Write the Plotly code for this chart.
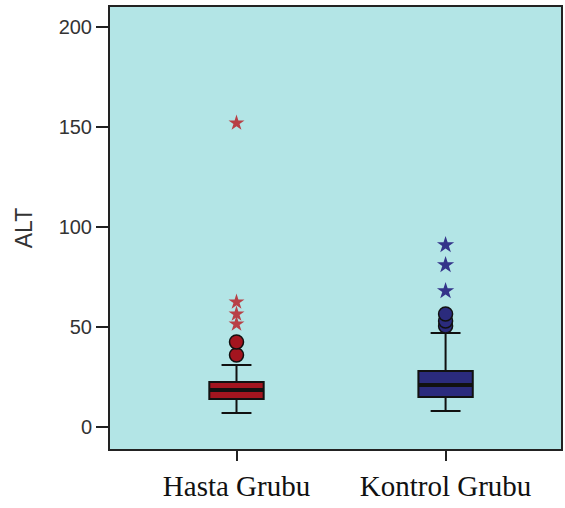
import plotly.graph_objects as go

categories = ["Hasta Grubu", "Kontrol Grubu"]
q1 = [14, 15]
median = [18.5, 21]
q3 = [22.5, 28]
lower_fence = [7, 8]
upper_fence = [31, 47]
circle_outliers = [[36, 42.5], [50.5, 53, 56.5]]
star_outliers = [[51.5, 56.5, 62.5, 152], [68, 81, 91]]

box_fill = ["#a3151f", "#2b2b7d"]
star_color = ["#b84046", "#34348a"]
star_size = [12, 13]

fig = go.Figure()
for i, cat in enumerate(categories):
    fig.add_trace(go.Box(
        x=[cat], q1=[q1[i]], median=[median[i]], q3=[q3[i]],
        lowerfence=[lower_fence[i]], upperfence=[upper_fence[i]],
        boxpoints=False, fillcolor=box_fill[i],
        line=dict(color="#111111", width=2),
        width=0.26, whiskerwidth=0.55, showlegend=False, hoverinfo="skip"))
    # thick median band
    fig.add_trace(go.Box(
        x=[cat], q1=[median[i]], median=[median[i]], q3=[median[i]],
        lowerfence=[median[i]], upperfence=[median[i]],
        boxpoints=False, fillcolor="#111111",
        line=dict(color="#111111", width=4),
        width=0.26, whiskerwidth=0, showlegend=False, hoverinfo="skip"))
    fig.add_trace(go.Scatter(
        x=[cat] * len(circle_outliers[i]), y=circle_outliers[i], mode="markers",
        marker=dict(symbol="circle", size=14, color=box_fill[i],
                    line=dict(color="#111111", width=1.5)),
        showlegend=False, hoverinfo="skip"))
    fig.add_trace(go.Scatter(
        x=[cat] * len(star_outliers[i]), y=star_outliers[i], mode="markers",
        marker=dict(symbol="star", size=star_size[i], color=star_color[i],
                    line=dict(width=0)),
        showlegend=False, hoverinfo="skip"))

fig.update_layout(
    width=565, height=508,
    margin=dict(l=110, r=2, t=7, b=59),
    paper_bgcolor="white",
    plot_bgcolor="#b3e5e6",
    boxmode="overlay",
    xaxis=dict(
        type="category", range=[-0.605, 1.552],
        showgrid=False, zeroline=False,
        showline=True, mirror=True, linecolor="#222222", linewidth=2,
        ticks="outside", ticklen=10, tickwidth=2, tickcolor="#222222",
        tickfont=dict(family="Liberation Serif", size=29, color="#111111"),
    ),
    yaxis=dict(
        range=[-11, 210],
        tickvals=[0, 50, 100, 150, 200],
        showgrid=False, zeroline=False,
        showline=True, mirror=True, linecolor="#222222", linewidth=2,
        ticks="outside", ticklen=12, tickwidth=2, tickcolor="#222222",
        tickfont=dict(family="Liberation Sans", size=20, color="#333333"),
        title=dict(text="ALT", font=dict(family="Liberation Sans", size=23, color="#333333"),
                   standoff=20),
    ),
)

fig.write_html("out.html",
               config={"responsive": False, "displayModeBar": False},
               post_script="document.body.style.margin='0';document.body.style.overflow='hidden';")
